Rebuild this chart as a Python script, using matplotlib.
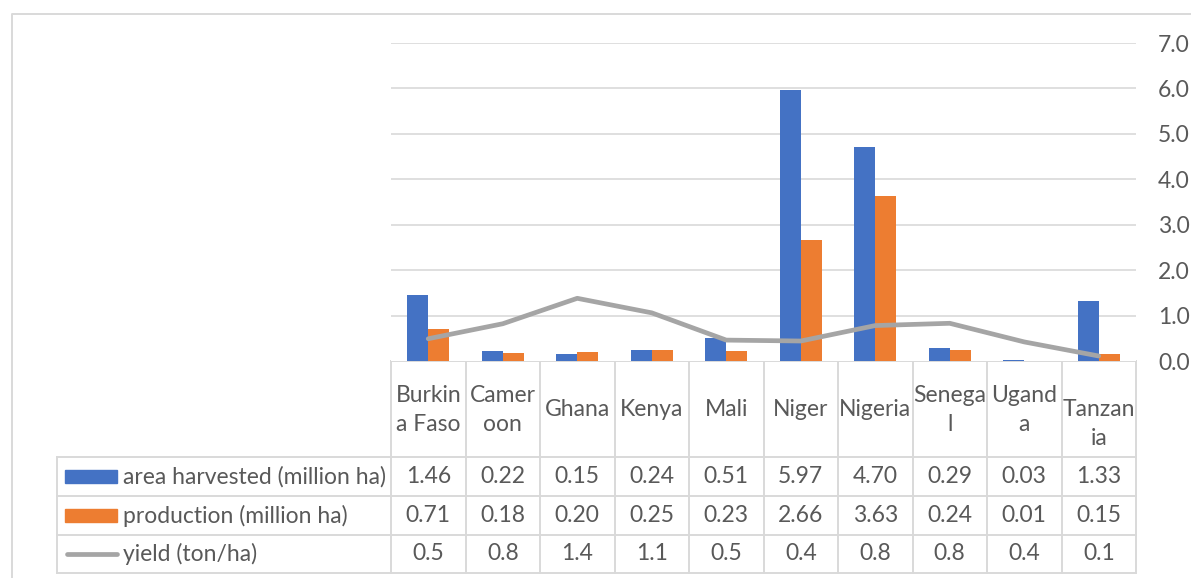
import numpy as np
import matplotlib
matplotlib.use("Agg")
import matplotlib.pyplot as plt
from matplotlib.patches import Rectangle
from matplotlib.lines import Line2D

plt.rcParams['font.family'] = ['Lato', 'DejaVu Sans']

# data
countries = ["Burkina Faso", "Cameroon", "Ghana", "Kenya", "Mali",
             "Niger", "Nigeria", "Senegal", "Uganda", "Tanzania"]
header_labels = ["Burkin\na Faso", "Camer\noon", "Ghana", "Kenya", "Mali",
                 "Niger", "Nigeria", "Senega\nl", "Ugand\na", "\nTanzan\nia"]
area = [1.46, 0.22, 0.15, 0.24, 0.51, 5.97, 4.70, 0.29, 0.03, 1.33]
production = [0.71, 0.18, 0.20, 0.25, 0.23, 2.66, 3.63, 0.24, 0.01, 0.15]
yield_tha = [0.49, 0.82, 1.38, 1.06, 0.46, 0.44, 0.78, 0.83, 0.42, 0.11]
series_names = ["area harvested (million ha)", "production (million ha)", "yield (ton/ha)"]
y_ticks = [0, 1, 2, 3, 4, 5, 6, 7]

BLUE, ORANGE, GREY = '#4472C4', '#ED7D31', '#A5A5A5'
GRID = '#d9d9d9'
TXT = '#595959'
FS = 16.5

W, H = 1191, 578
fig = plt.figure(figsize=(W / 100, H / 100), dpi=100)

# pixel layout
px_left, px_right, px_top, px_zero = 391, 1136, 43, 361
ax = fig.add_axes([px_left / W, 1 - px_zero / H, (px_right - px_left) / W, (px_zero - px_top) / H])

x = np.arange(len(countries))
bw = 0.285
ax.bar(x - bw / 2, area, bw, color=BLUE, zorder=2)
ax.bar(x + bw / 2, production, bw, color=ORANGE, zorder=2)
ax.plot(x, yield_tha, color=GREY, lw=3.4, solid_capstyle='round', solid_joinstyle='round', zorder=3)

ax.set_xlim(-0.5, len(countries) - 0.5)
ax.set_ylim(0, 7)
ax.set_yticks(y_ticks)
ax.set_yticklabels([f"{t:.1f}" for t in y_ticks], fontsize=FS, color=TXT)
ax.yaxis.tick_right()
ax.tick_params(axis='y', length=0, pad=16)
ax.set_xticks([])
for t in y_ticks[1:]:
    ax.axhline(t, color=GRID, lw=1.2, zorder=1)
for s in ax.spines.values():
    s.set_visible(False)

# data table drawn in pixel coordinates
tab = fig.add_axes([0, 0, 1, 1], zorder=-1)
tab.set_xlim(0, W)
tab.set_ylim(H, 0)
tab.axis('off')

n = len(countries)
cw = (px_right - px_left) / n
col_x = [px_left + i * cw for i in range(n + 1)]
row_y = [px_zero, 457, 496, 535, 573]
tab_left = 57

tab.plot([px_left, px_right], [px_zero, px_zero], color=GRID, lw=1.4)
for yy in row_y[1:]:
    tab.plot([tab_left, px_right], [yy, yy], color=GRID, lw=1.4)
tab.plot([tab_left, tab_left], [row_y[1], row_y[-1]], color=GRID, lw=1.4)
for xx in col_x:
    tab.plot([xx, xx], [px_zero, row_y[-1]], color=GRID, lw=1.4)

for i, lab in enumerate(header_labels):
    tab.text(col_x[i] + cw / 2, 410, lab, ha='center', va='center',
             fontsize=FS, color=TXT, linespacing=1.45)

rows = [[f"{v:.2f}" for v in area],
        [f"{v:.2f}" for v in production],
        [f"{v:.1f}" for v in yield_tha]]
for r, vals in enumerate(rows):
    yc = (row_y[r + 1] + row_y[r + 2]) / 2
    for i, v in enumerate(vals):
        tab.text(col_x[i] + cw / 2, yc, v, ha='center', va='center', fontsize=FS, color=TXT)
    tab.text(123, yc, series_names[r], ha='left', va='center', fontsize=FS, color=TXT)

# legend keys
tab.add_patch(Rectangle((65, 470), 52, 13, color=BLUE))
tab.add_patch(Rectangle((65, 509), 52, 13, color=ORANGE))
tab.add_line(Line2D([67, 117], [554, 554], color=GREY, lw=3.4, solid_capstyle='round'))

# chart area border
tab.plot([12, 12, W], [H, 14, 14], color=GRID, lw=1.4)

fig.savefig("out.png", dpi=100, facecolor='white')
